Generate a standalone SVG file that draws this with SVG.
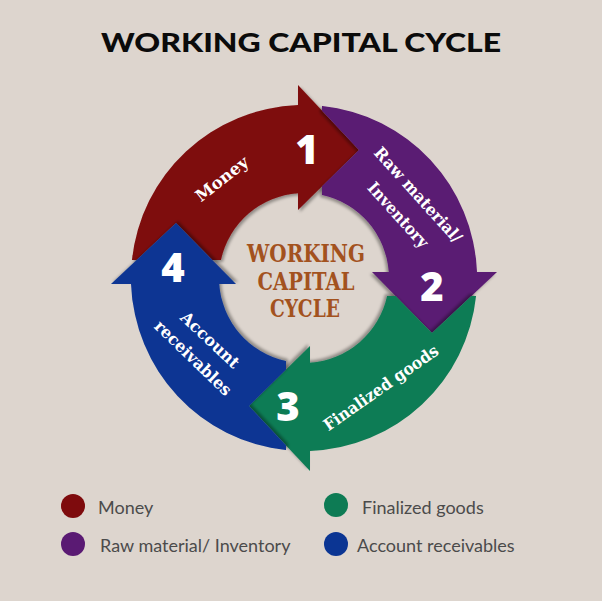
<svg xmlns="http://www.w3.org/2000/svg" xmlns:xlink="http://www.w3.org/1999/xlink" width="602" height="601" viewBox="0 0 602 601">
<style>
.title{font-family:"Lato","Open Sans",sans-serif;font-weight:900;font-size:27px;fill:#0b0b0b}
.num{font-family:"Open Sans","Lato",sans-serif;font-weight:800;font-size:40px;fill:#ffffff;text-anchor:middle}
.lbl{font-family:"DejaVu Serif","Liberation Serif",serif;font-weight:bold;font-size:16.5px;fill:#ffffff;text-anchor:middle;dominant-baseline:central}
.ctr{font-family:"DejaVu Serif","Liberation Serif",serif;font-weight:bold;font-size:24px;fill:#a3521e;text-anchor:middle}
.leg{font-family:"Lato","Open Sans",sans-serif;font-size:18px;fill:#4b4b4b}
.red{fill:#7e0b0d}.pur{fill:#5a1a73}.grn{fill:#0d7b54}.blu{fill:#0b3593}
</style>
<defs>
<filter id="sh" x="-20%" y="-20%" width="140%" height="140%">
<feDropShadow dx="2" dy="2" stdDeviation="1.5" flood-color="#000" flood-opacity="0.35"/>
</filter>
<path id="band" d="M -172.06 -18 A 173 173 0 0 1 -6 -172.9 L -6 -84.79 A 85 85 0 0 0 -83.07 -18 L -91.6 -18 L -128 -55 L -167.4 -18 Z"/>
<path id="head" d="M -6 -193 L 55 -128 L -6 -68 Z"/>
</defs>
<rect width="602" height="601" fill="#ddd5ce"/>
<text class="title" x="101" y="52" textLength="400" lengthAdjust="spacingAndGlyphs">WORKING CAPITAL CYCLE</text>
<g id="connectors"/>
<g id="seg-money">
<g transform="translate(304 278)" class="red" filter="url(#sh)"><use xlink:href="#band"/><use xlink:href="#head"/></g>
<text class="lbl" transform="translate(222 179) rotate(-38)" textLength="62" lengthAdjust="spacingAndGlyphs">Money</text>
<text class="num" x="307" y="164">1</text>
</g>
<g id="seg-raw">
<g transform="translate(304 278) rotate(90)" class="pur" filter="url(#sh)"><use xlink:href="#band"/><use xlink:href="#head"/></g>
<text class="lbl" transform="translate(418 195) rotate(48)" textLength="122" lengthAdjust="spacingAndGlyphs">Raw material/</text>
<text class="lbl" transform="translate(398 215) rotate(48)" textLength="82" lengthAdjust="spacingAndGlyphs">Inventory</text>
<text class="num" x="432" y="301">2</text>
</g>
<g id="seg-goods">
<g transform="translate(304 278) rotate(180)" class="grn" filter="url(#sh)"><use xlink:href="#band"/><use xlink:href="#head"/></g>
<text class="lbl" transform="translate(381 388) rotate(-35)" textLength="136" lengthAdjust="spacingAndGlyphs">Finalized goods</text>
<text class="num" x="288" y="421">3</text>
</g>
<g id="seg-recv">
<g transform="translate(304 278) rotate(270)" class="blu" filter="url(#sh)"><use xlink:href="#band"/><use xlink:href="#head"/></g>
<text class="lbl" transform="translate(210 340) rotate(43)" textLength="74" lengthAdjust="spacingAndGlyphs">Account</text>
<text class="lbl" transform="translate(193 358) rotate(44)" textLength="100" lengthAdjust="spacingAndGlyphs">receivables</text>
<text class="num" x="173" y="282">4</text>
</g>
<g id="center-label">
<text class="ctr" x="306" y="262" textLength="118" lengthAdjust="spacingAndGlyphs">WORKING</text>
<text class="ctr" x="306" y="290" textLength="97" lengthAdjust="spacingAndGlyphs">CAPITAL</text>
<text class="ctr" x="305" y="317" textLength="70" lengthAdjust="spacingAndGlyphs">CYCLE</text>
</g>
<g id="legend">
<circle class="red" cx="73" cy="506" r="12"/>
<text class="leg" x="98" y="514">Money</text>
<circle class="pur" cx="73" cy="544" r="12"/>
<text class="leg" x="100" y="552">Raw material/ Inventory</text>
<circle class="grn" cx="336" cy="505" r="12"/>
<text class="leg" x="362" y="514">Finalized goods</text>
<circle class="blu" cx="336" cy="544" r="12"/>
<text class="leg" x="357" y="552">Account receivables</text>
</g>
</svg>
